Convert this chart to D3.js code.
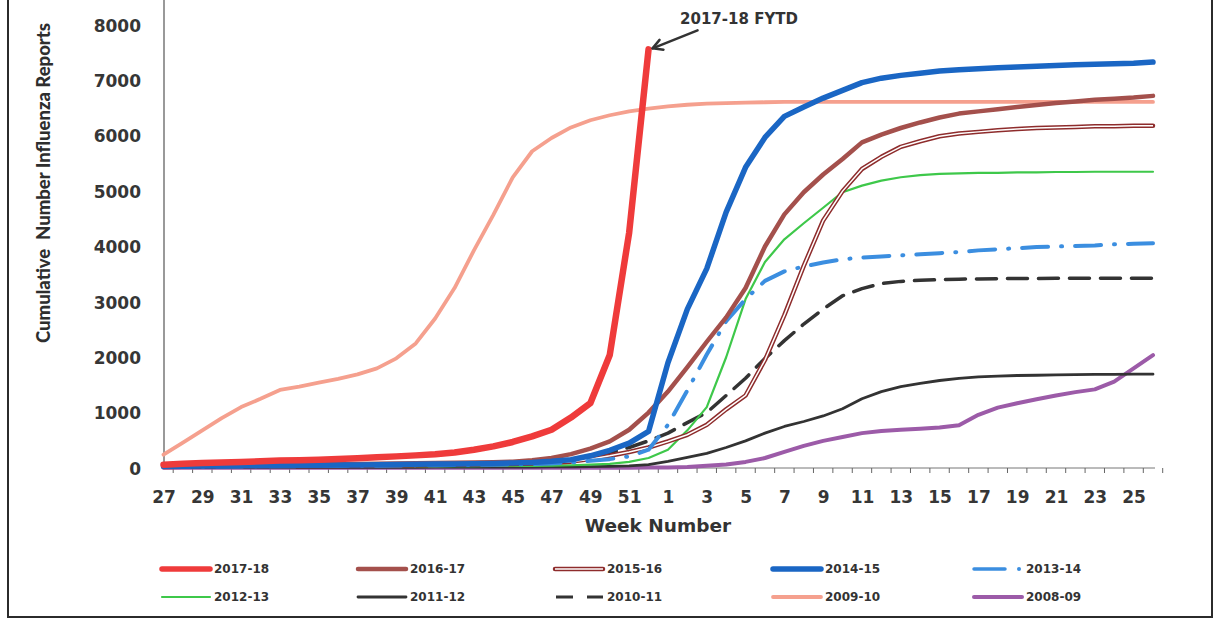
<!DOCTYPE html>
<html>
<head>
<meta charset="utf-8">
<script src="https://cdn.jsdelivr.net/npm/d3@7"></script>
<style>
  html, body { margin: 0; padding: 0; background: #fff; }
  svg { display: block; }
</style>
</head>
<body>
<svg id="chart" width="1217" height="620"></svg>
<script>
// Week numbers of the influenza season (July through June)
const weeks = [27,28,29,30,31,32,33,34,35,36,37,38,39,40,41,42,43,44,45,46,47,48,49,50,51,52,
               1,2,3,4,5,6,7,8,9,10,11,12,13,14,15,16,17,18,19,20,21,22,23,24,25,26];

// Labelled weeks on the x axis
const weekTicks = [27,29,31,33,35,37,39,41,43,45,47,49,51,1,3,5,7,9,11,13,15,17,19,21,23,25];

// Y axis ticks
const countTicks = [0,1000,2000,3000,4000,5000,6000,7000,8000];

// Cumulative reports per season (2017-18 is fiscal year to date)
const s2017_18 = [60,75,90,100,110,122,135,142,150,162,175,192,210,228,250,280,330,390,470,570,690,910,1170,2040,4250,7560];
const s2016_17 = [40,45,50,55,58,60,62,65,68,70,73,76,80,85,90,95,100,105,115,140,180,250,350,480,690,1000,
                  1380,1820,2280,2720,3250,4000,4580,4980,5300,5580,5880,6020,6140,6240,6330,6400,6440,6480,6520,6555,6590,6620,6650,6670,6690,6720];
const s2015_16 = [20,22,24,26,28,30,32,34,36,38,40,43,46,50,54,58,62,66,72,80,95,115,160,220,290,370,
                  480,600,780,1060,1310,1950,2760,3650,4470,5000,5400,5620,5800,5900,5990,6040,6070,6100,6120,6140,6150,6160,6170,6170,6180,6180];
const s2014_15 = [30,32,35,38,40,42,45,48,50,53,56,60,63,66,70,74,78,82,90,100,120,150,220,320,450,660,
                  1900,2870,3600,4620,5430,5970,6350,6520,6680,6820,6960,7040,7090,7130,7170,7190,7210,7230,7240,7255,7270,7280,7290,7300,7310,7330];
const s2013_14 = [20,22,24,26,28,30,32,34,36,38,40,42,45,48,51,54,57,60,65,72,80,100,130,160,210,330,
                  780,1400,2050,2650,3050,3380,3550,3640,3710,3770,3800,3820,3840,3860,3880,3900,3930,3950,3970,3990,4000,4010,4020,4040,4050,4060];
const s2012_13 = [15,16,17,18,19,20,21,22,23,24,25,26,27,28,30,32,34,36,38,40,44,50,60,75,110,180,
                  330,680,1100,2000,3050,3720,4130,4420,4700,4980,5100,5190,5250,5290,5310,5320,5330,5330,5340,5340,5345,5345,5350,5350,5350,5350];
const s2011_12 = [8,8,9,9,10,10,11,11,12,12,13,13,14,14,15,15,16,16,17,18,20,22,25,30,40,60,
                  120,190,265,370,490,630,750,840,940,1070,1250,1380,1470,1530,1580,1620,1645,1660,1670,1675,1680,1685,1690,1690,1695,1695];
const s2010_11 = [30,31,32,33,34,35,36,37,38,39,40,42,44,46,48,50,53,56,65,75,95,140,200,280,370,490,
                  630,820,1000,1310,1620,1980,2300,2600,2870,3110,3240,3330,3370,3390,3400,3410,3415,3420,3420,3420,3425,3425,3425,3425,3425,3425];
const s2009_10 = [240,460,680,900,1100,1250,1410,1470,1540,1610,1690,1800,1980,2250,2700,3250,3930,4570,5250,5720,5960,6150,6280,6370,6440,6490,
                  6530,6560,6580,6590,6600,6605,6610,6610,6610,6610,6610,6610,6610,6610,6610,6610,6610,6610,6610,6610,6610,6610,6610,6610,6610,6610];
const s2008_09 = [5,5,5,5,5,5,5,5,5,5,5,5,5,5,5,5,5,5,5,5,5,5,5,5,5,8,
                  10,20,40,65,110,180,290,400,490,560,630,670,690,710,730,770,960,1090,1170,1240,1310,1370,1420,1560,1800,2040];

// Series styles, listed in legend order
const seriesList = [
  { name: "2017-18", values: s2017_18, color: "#ef3b3b", width: 6.5 },
  { name: "2016-17", values: s2016_17, color: "#a4504c", width: 4.5 },
  { name: "2015-16", values: s2015_16, color: "#8e2c2c", width: 4.5, double: true },
  { name: "2014-15", values: s2014_15, color: "#1a66c4", width: 5.5 },
  { name: "2013-14", values: s2013_14, color: "#3b8ee0", width: 4, dash: "26 13 1 13" },
  { name: "2012-13", values: s2012_13, color: "#3ec84a", width: 2.2 },
  { name: "2011-12", values: s2011_12, color: "#333333", width: 2.8 },
  { name: "2010-11", values: s2010_11, color: "#333333", width: 3.5, dash: "20 11" },
  { name: "2009-10", values: s2009_10, color: "#f5a08e", width: 3.8 },
  { name: "2008-09", values: s2008_09, color: "#9c5ba8", width: 4 }
];

// Painting order (later = on top)
const drawOrder = ["2008-09","2009-10","2011-12","2010-11","2012-13","2015-16","2013-14","2016-17","2014-15","2017-18"];

const svg = d3.select("#chart");
const plot = { left: 164, right: 1155, top: 25, bottom: 468 };

const x = d3.scalePoint().domain(weeks).range([163.5, 1153]);
const y = d3.scaleLinear().domain([0, 8000]).range([plot.bottom, plot.top]);

// Outer frame (left, bottom, right)
svg.append("path")
  .attr("d", "M8,0 V617 H1212 V0")
  .attr("fill", "none")
  .attr("stroke", "#2b2b2b")
  .attr("stroke-width", 2);

// Y axis line
svg.append("line")
  .attr("x1", plot.left).attr("x2", plot.left)
  .attr("y1", 0).attr("y2", plot.bottom)
  .attr("stroke", "#555").attr("stroke-width", 1.2);

// Y axis labels
const yAxis = d3.axisLeft(y).tickValues(countTicks).tickSize(0).tickPadding(0).tickFormat(d3.format("d"));
const gy = svg.append("g").attr("transform", "translate(141,0)").call(yAxis);
gy.select(".domain").remove();
gy.selectAll("text")
  .attr("font-family", "'DejaVu Sans', Verdana, sans-serif")
  .attr("font-size", 17).attr("font-weight", "bold")
  .attr("fill", "#363636").attr("dy", "0.36em");

// X axis: line + ticks between categories + labels every second week
svg.append("line")
  .attr("x1", plot.left).attr("x2", plot.right)
  .attr("y1", plot.bottom).attr("y2", plot.bottom)
  .attr("stroke", "#777").attr("stroke-width", 1);

const step = x.step();
svg.append("g").selectAll("line")
  .data(weeks)
  .join("line")
  .attr("x1", d => x(d) + step / 2).attr("x2", d => x(d) + step / 2)
  .attr("y1", plot.bottom).attr("y2", plot.bottom + 5)
  .attr("stroke", "#666").attr("stroke-width", 1);

const xAxis = d3.axisBottom(x).tickValues(weekTicks).tickSize(0).tickPadding(0);
const gx = svg.append("g").attr("transform", `translate(0,${plot.bottom})`).call(xAxis);
gx.select(".domain").remove();
gx.selectAll("text")
  .attr("y", 35).attr("dy", 0)
  .attr("font-family", "'DejaVu Sans', Verdana, sans-serif")
  .attr("font-size", 17).attr("font-weight", "bold")
  .attr("fill", "#363636");

// Axis titles
svg.append("text")
  .attr("transform", "translate(43,183) rotate(-90)")
  .attr("text-anchor", "middle")
  .attr("dy", "0.35em")
  .style("white-space", "pre")
  .attr("font-family", "Lato, 'Open Sans', sans-serif")
  .attr("font-size", 19).attr("font-weight", 900)
  .attr("fill", "#2e2e2e")
  .attr("textLength", 320).attr("lengthAdjust", "spacingAndGlyphs")
  .text("Cumulative  Number Influenza Reports");

svg.append("text")
  .attr("x", 658).attr("y", 532)
  .attr("text-anchor", "middle")
  .attr("font-family", "'DejaVu Sans', Verdana, sans-serif")
  .attr("font-size", 18.5).attr("font-weight", "bold")
  .attr("fill", "#333")
  .text("Week Number");

// Series lines
const line = d3.line()
  .x((d, i) => x(weeks[i]))
  .y(d => y(d));

const gLines = svg.append("g");
drawOrder.forEach(name => {
  const s = seriesList.find(e => e.name === name);
  const p = gLines.append("path")
    .datum(s.values)
    .attr("d", line)
    .attr("fill", "none")
    .attr("stroke", s.color)
    .attr("stroke-width", s.width)
    .attr("stroke-linejoin", "round")
    .attr("stroke-linecap", "round");
  if (s.dash) p.attr("stroke-dasharray", s.dash);
  if (s.double) {
    gLines.append("path")
      .datum(s.values)
      .attr("d", line)
      .attr("fill", "none")
      .attr("stroke", "#fff")
      .attr("stroke-width", 1.5)
      .attr("stroke-linejoin", "round");
  }
});

// Annotation for the current season's latest value
const last = s2017_18.length - 1;
const tipX = x(weeks[last]) + 4, tipY = y(s2017_18[last]) - 1;
const tailX = tipX + 45, tailY = tipY - 18;
const ang = Math.atan2(tipY - tailY, tipX - tailX);
const headLen = 11, headSpread = 0.5;
svg.append("line")
  .attr("x1", tailX).attr("y1", tailY).attr("x2", tipX).attr("y2", tipY)
  .attr("stroke", "#333").attr("stroke-width", 2.5).attr("stroke-linecap", "round");
svg.append("path")
  .attr("d", `M${tipX - headLen * Math.cos(ang - headSpread)},${tipY - headLen * Math.sin(ang - headSpread)}
              L${tipX},${tipY}
              L${tipX - headLen * Math.cos(ang + headSpread)},${tipY - headLen * Math.sin(ang + headSpread)}`)
  .attr("fill", "none").attr("stroke", "#333").attr("stroke-width", 2.5)
  .attr("stroke-linecap", "round").attr("stroke-linejoin", "round");
svg.append("text")
  .attr("x", 739).attr("y", 24)
  .attr("text-anchor", "middle")
  .attr("font-family", "'DejaVu Sans', Verdana, sans-serif")
  .attr("font-size", 15).attr("font-weight", "bold")
  .attr("fill", "#333")
  .text("2017-18 FYTD");

// Legend: two rows of five
const legendCols = [162, 358, 555, 773, 974];
const legendRows = [569, 597];
const legendLen = 48;
const gLeg = svg.append("g");
seriesList.forEach((s, i) => {
  const cx = legendCols[i % 5], cy = legendRows[Math.floor(i / 5)];
  const g = gLeg.append("g");
  if (s.name === "2013-14") {
    g.append("line").attr("x1", cx).attr("x2", cx + 31).attr("y1", cy).attr("y2", cy)
      .attr("stroke", s.color).attr("stroke-width", 3.5).attr("stroke-linecap", "round");
    g.append("circle").attr("cx", cx + 45).attr("cy", cy).attr("r", 2).attr("fill", s.color);
  } else if (s.name === "2010-11") {
    g.append("line").attr("x1", cx + 1).attr("x2", cx + legendLen).attr("y1", cy).attr("y2", cy)
      .attr("stroke", s.color).attr("stroke-width", 3.2).attr("stroke-dasharray", "17 14");
  } else {
    g.append("line").attr("x1", cx).attr("x2", cx + legendLen).attr("y1", cy).attr("y2", cy)
      .attr("stroke", s.color).attr("stroke-width", Math.min(s.width, 5.5)).attr("stroke-linecap", "round");
    if (s.double) {
      g.append("line").attr("x1", cx).attr("x2", cx + legendLen).attr("y1", cy).attr("y2", cy)
        .attr("stroke", "#fff").attr("stroke-width", 1.5);
    }
  }
  g.append("text")
    .attr("x", cx + legendLen + 4).attr("y", cy).attr("dy", "0.36em")
    .attr("font-family", "'DejaVu Sans', Verdana, sans-serif")
    .attr("font-size", 12).attr("font-weight", "bold")
    .attr("fill", "#333")
    .text(s.name);
});
</script>
</body>
</html>
